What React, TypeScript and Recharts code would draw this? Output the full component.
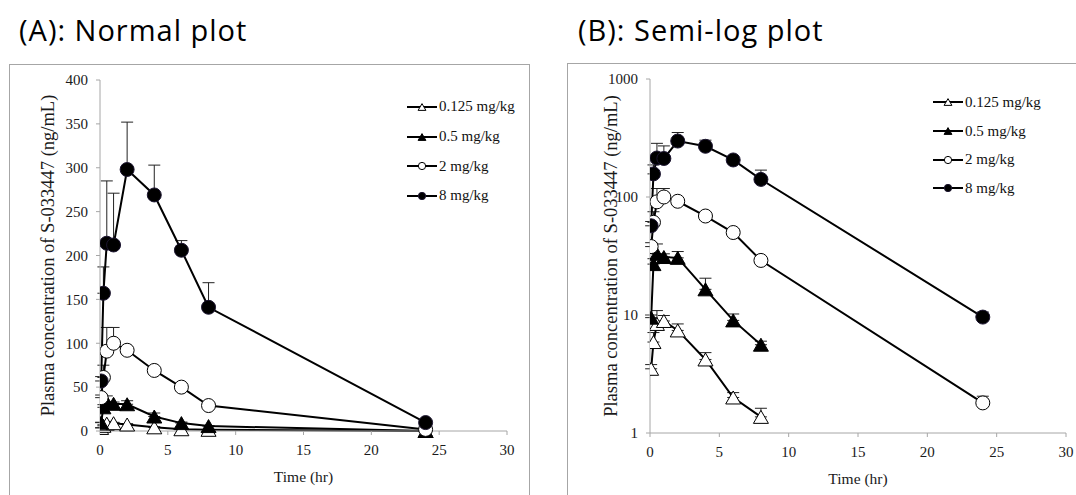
import React from 'react'
import { LineChart, Line, XAxis, YAxis, ErrorBar, Legend, Label } from 'recharts'

// sampling times (hr)
const TIME = [0.083, 0.25, 0.5, 1, 2, 4, 6, 8, 24]

// mean plasma concentration (ng/mL); 0 = below LOQ at 24 hr
const DOSE_0125 = [3.5, 5.9, 8.4, 8.9, 7.4, 4.2, 2.0, 1.37, 0]
const DOSE_05 = [9.5, 27, 33, 31, 30.5, 16.5, 9.0, 5.6, 0]
const DOSE_2 = [38, 61, 91, 100, 92, 69, 50, 29, 1.8]
const DOSE_8 = [57, 157, 214, 212, 298, 269, 206, 141, 9.6]

// SD (upper bars only)
const SD_0125 = [0.3, 1.2, 2.5, 1.0, 1.0, 0.6, 0.2, 0.25, 0]
const SD_05 = [0.5, 3, 7, 2, 4, 4, 1.2, 0.4, 0]
const SD_2 = [3, 14, 27, 18, 4, 3, 4, 2, 0.25]
const SD_8 = [5, 30, 71, 59, 54, 34, 11, 28, 1]

const LINEAR_TICKS = [0, 50, 100, 150, 200, 250, 300, 350, 400]
const LOG_TICKS = [1, 10, 100, 1000]
const TIME_TICKS = [0, 5, 10, 15, 20, 25, 30]

type Kind = 'openTri' | 'fillTri' | 'openCircle' | 'fillCircle'

const SERIES: { key: string; name: string; kind: Kind; values: number[]; sd: number[] }[] = [
  { key: 'd0125', name: '0.125 mg/kg', kind: 'openTri', values: DOSE_0125, sd: SD_0125 },
  { key: 'd05', name: '0.5 mg/kg', kind: 'fillTri', values: DOSE_05, sd: SD_05 },
  { key: 'd2', name: '2 mg/kg', kind: 'openCircle', values: DOSE_2, sd: SD_2 },
  { key: 'd8', name: '8 mg/kg', kind: 'fillCircle', values: DOSE_8, sd: SD_8 },
]

const buildRows = (log: boolean) =>
  TIME.map((t, i) => {
    const row: Record<string, any> = { t }
    SERIES.forEach((s) => {
      const v = s.values[i]
      const skip = log && v <= 0
      row[s.key] = skip ? null : v
      row[s.key + '_err'] = skip ? null : [0, s.sd[i]]
    })
    return row
  })

const SERIF = '"Liberation Serif", "Times New Roman", serif'
const AXIS = '#a6a6a6'

function Marker({ cx, cy, kind, size = 1 }: { cx: number; cy: number; kind: Kind; size?: number }) {
  const fill = kind === 'fillTri' || kind === 'fillCircle' ? '#000' : '#fff'
  if (kind === 'openCircle' || kind === 'fillCircle') {
    return <circle cx={cx} cy={cy} r={7 * size} fill={fill} stroke={kind === 'fillCircle' ? '#1c1530' : '#000'} strokeWidth={1} />
  }
  const w = 7.5 * size
  const h = 13 * size
  const pts = `${cx - w},${cy + h / 2} ${cx + w},${cy + h / 2} ${cx},${cy - h / 2}`
  return <polygon points={pts} fill={fill} stroke="#000" strokeWidth={1} strokeLinejoin="miter" />
}

function LegendBox({ gap }: { gap: number }) {
  return (
    <div style={{ fontFamily: SERIF, fontSize: 15, color: '#111' }}>
      {SERIES.map((s) => (
        <div key={s.key} style={{ display: 'flex', alignItems: 'center', height: gap }}>
          <svg width={30} height={16} style={{ marginRight: 2 }}>
            <line x1={0} y1={8} x2={30} y2={8} stroke="#000" strokeWidth={2} />
            <Marker cx={15} cy={8} kind={s.kind} size={0.52} />
          </svg>
          <span>{s.name}</span>
        </div>
      ))}
    </div>
  )
}

interface PanelProps {
  log: boolean
  width: number
  margin: { top: number; right: number; bottom: number; left: number }
  labelOffset: number
  legendPos: { left: number; top: number }
  legendGap: number
}

function Panel({ log, width, margin, labelOffset, legendPos, legendGap }: PanelProps) {
  const rows = buildRows(log)
  const tick = { fontSize: 15, fill: '#1a1a1a', fontFamily: SERIF }
  const yLabel = (
    <Label
      value="Plasma concentration of S-033447 (ng/mL)"
      angle={-90}
      position="insideLeft"
      offset={labelOffset}
      style={{ textAnchor: 'middle', fontFamily: SERIF, fontSize: 18.5, fill: '#1a1a1a' }}
    />
  )
  return (
    <LineChart width={width} height={495} data={rows} margin={margin}>
      <XAxis
        type="number"
        dataKey="t"
        domain={[0, 30]}
        ticks={TIME_TICKS}
        tick={tick}
        stroke={AXIS}
        tickSize={4}
        tickMargin={9}
        height={56}
        allowDataOverflow
      >
        <Label value="Time (hr)" position="insideBottom" offset={5} style={{ fontFamily: SERIF, fontSize: 15.5, fill: '#1a1a1a' }} />
      </XAxis>
      {log ? (
        <YAxis
          type="number"
          scale="log"
          domain={[1, 1000]}
          ticks={LOG_TICKS}
          allowDataOverflow
          tick={tick}
          stroke={AXIS}
          tickSize={4}
          tickMargin={8}
          width={60}
        >
          {yLabel}
        </YAxis>
      ) : (
        <YAxis
          type="number"
          domain={[0, 400]}
          ticks={LINEAR_TICKS}
          tick={tick}
          stroke={AXIS}
          tickSize={4}
          tickMargin={8}
          width={60}
        >
          {yLabel}
        </YAxis>
      )}
      {/* lines + upper SD bars */}
      {SERIES.map((s) => (
        <Line
          key={s.key}
          dataKey={s.key}
          name={s.name}
          stroke="#000"
          strokeWidth={2}
          dot={false}
          activeDot={false}
          legendType="none"
          isAnimationActive={false}
        >
          <ErrorBar dataKey={s.key + '_err'} width={6} stroke="#222" strokeWidth={1} direction="y" />
        </Line>
      ))}
      {/* markers on top */}
      {SERIES.map((s) => (
        <Line
          key={s.key + '_m'}
          dataKey={s.key}
          stroke="none"
          legendType="none"
          activeDot={false}
          isAnimationActive={false}
          dot={(p: any) =>
            p.cy == null || p.value == null ? (
              <g key={p.index} />
            ) : (
              <Marker key={p.index} cx={p.cx} cy={p.cy} kind={s.kind} />
            )
          }
        />
      ))}
      <Legend
        layout="vertical"
        align="center"
        verticalAlign="middle"
        content={() => <LegendBox gap={legendGap} />}
        wrapperStyle={{ position: 'absolute', left: legendPos.left, top: legendPos.top, width: 'auto' }}
      />
    </LineChart>
  )
}

export default function App() {
  const title = {
    position: 'absolute' as const,
    fontFamily: '"Open Sans", sans-serif',
    fontSize: 29,
    letterSpacing: 1,
    lineHeight: '32px',
    color: '#000',
    whiteSpace: 'nowrap' as const,
  }
  return (
    <div style={{ position: 'absolute', left: 0, top: 0, width: 1076, height: 495, background: '#fff', overflow: 'hidden' }}>
      <div style={{ ...title, left: 19, top: 14 }}>(A): Normal plot</div>
      <div style={{ ...title, left: 578, top: 14 }}>(B): Semi-log plot</div>
      <div style={{ position: 'absolute', left: 9, top: 64, width: 519, height: 460, border: '1px solid #a6a6a6' }} />
      <div style={{ position: 'absolute', left: 567, top: 63, width: 540, height: 460, border: '1px solid #a6a6a6' }} />
      <div style={{ position: 'absolute', left: 0, top: 0 }}>
        <Panel
          log={false}
          width={540}
          margin={{ top: 80, right: 33, bottom: 8, left: 40 }}
          labelOffset={7}
          legendPos={{ left: 407, top: 92 }}
          legendGap={29.7}
        />
      </div>
      <div style={{ position: 'absolute', left: 540, top: 0 }}>
        <Panel
          log
          width={536}
          margin={{ top: 79, right: 10, bottom: 6, left: 50 }}
          labelOffset={20}
          legendPos={{ left: 393, top: 88 }}
          legendGap={28.7}
        />
      </div>
    </div>
  )
}
